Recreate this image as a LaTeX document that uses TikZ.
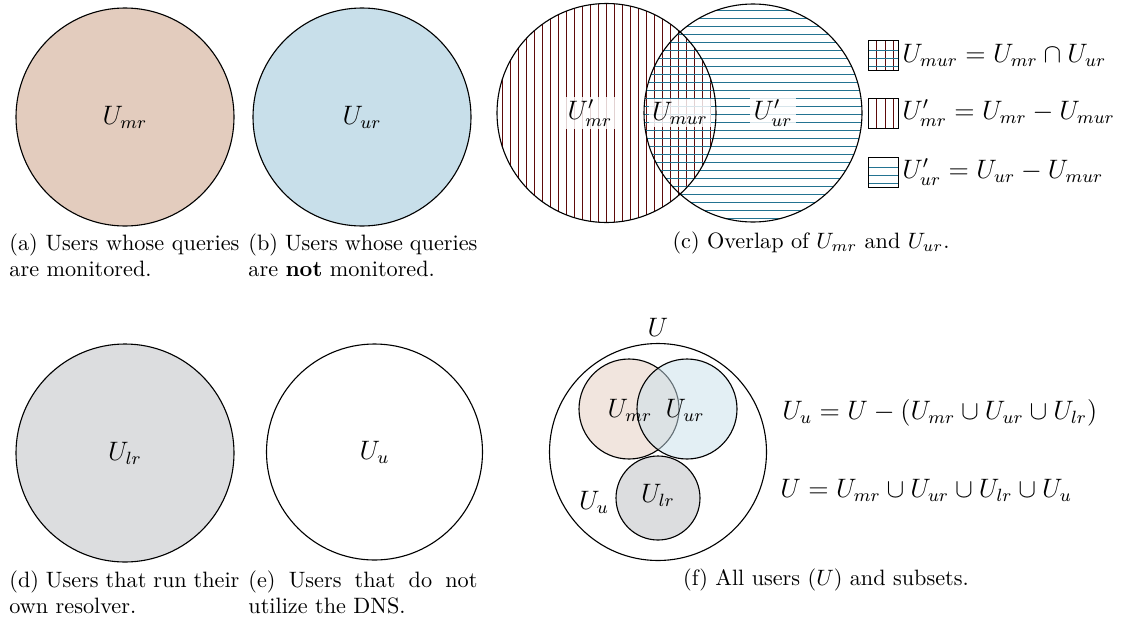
\documentclass[tikz,border=0pt]{standalone}
\usepackage{amsmath}
\definecolor{mrfill}{RGB}{227,204,190}
\definecolor{urfill}{RGB}{200,223,234}
\definecolor{lrfill}{RGB}{220,221,223}
\definecolor{mrhatch}{RGB}{95,10,10}
\definecolor{urhatch}{RGB}{35,115,145}
\begin{document}
\begin{tikzpicture}[x=0.45pt,y=-0.45pt,
  setc/.style={circle,draw=black,line width=0.5pt,inner sep=0pt,minimum size=#1*0.9pt},
  lbl/.style={font=\large},
  captxt/.style={font=\normalsize,inner sep=0pt},
  hv/.style={draw=mrhatch,line width=0.45pt},
  hh/.style={draw=urhatch,line width=0.6pt},
  labtag/.style={font=\large,fill=white,fill opacity=0.82,text opacity=1,inner sep=1.5pt},
  legbox/.style={draw=black,line width=0.45pt}]
\useasboundingbox (0,0) rectangle (1123,618);

% (a)
\node[setc=109,fill=mrfill] (ca) at (125,117) {};
\node[lbl] (la) at (ca) {$U_{mr}$};
\node[captxt,anchor=north west,text width=230*0.45pt,align=justify] (capa) at (9,233)
  {(a) Users whose queries\linebreak are monitored.};

% (b)
\node[setc=109,fill=urfill] (cb) at (362,117) {};
\node[lbl] (lb) at (cb) {$U_{ur}$};
\node[captxt,anchor=north west,text width=229*0.45pt,align=justify] (capb) at (248,233)
  {(b) Users whose queries\linebreak are \textbf{not} monitored.};

% (c)
\coordinate (cm) at (606.5,113);
\coordinate (cu) at (753,113);
\begin{scope}
  \clip (cm) circle [radius=109.5];
  \foreach \i in {0,...,28} \draw[hv] ({502.5+8*\i},0) -- ++(0,230);
\end{scope}
\begin{scope}
  \clip (cu) circle [radius=109];
  \foreach \i in {0,...,28} \draw[hh] (640,{10.5+8*\i}) -- ++(230,0);
\end{scope}
\node[setc=109.5] (cmr) at (cm) {};
\node[setc=109] (cur) at (cu) {};
\node[labtag] (t1) at (590,113) {$U'_{mr}$};
\node[labtag] (t2) at (680,113) {$U_{mur}$};
\node[labtag] (t3) at (773,113) {$U'_{ur}$};
\node[captxt] (capc) at (811,243) {(c) Overlap of $U_{mr}$ and $U_{ur}$.};

% legend
\coordinate (b1) at (868,40);
\coordinate (b2) at (868,98);
\coordinate (b3) at (868,157);
\foreach \k in {8.5,17,25.5} {
  \draw[hv] ([xshift=\k*0.45pt]b1) -- ++(0,30);
  \draw[hv] ([xshift=\k*0.45pt]b2) -- ++(0,30);
}
\foreach \k in {10.5,18.5,26.5} {
  \draw[hh] ([yshift=-\k*0.45pt]b1) -- ++(30,0);
  \draw[hh] ([yshift=-\k*0.45pt]b3) -- ++(30,0);
}
\draw[legbox] (b1) rectangle ++(30,30);
\draw[legbox] (b2) rectangle ++(30,30);
\draw[legbox] (b3) rectangle ++(30,30);
\node[lbl,anchor=west,inner sep=0pt] (e1) at (902,55) {$U_{mur} = U_{mr} \cap U_{ur}$};
\node[lbl,anchor=west,inner sep=0pt] (e2) at (902,113) {$U'_{mr} = U_{mr} - U_{mur}$};
\node[lbl,anchor=west,inner sep=0pt] (e3) at (902,172) {$U'_{ur} = U_{ur} - U_{mur}$};

% (d)
\node[setc=109,fill=lrfill] (cd) at (125,453) {};
\node[lbl] (ld) at (cd) {$U_{lr}$};
\node[captxt,anchor=north west,text width=230*0.45pt,align=justify] (capd) at (9,570)
  {(d) Users that run their\linebreak own resolver.};

% (e)
\node[setc=108] (ce) at (374.5,452) {};
\node[lbl] (le) at (ce) {$U_u$};
\node[captxt,anchor=north west,text width=229*0.45pt,align=justify] (cape) at (248,570)
  {(e) Users that do not\linebreak utilize the DNS.};

% (f)
\node[setc=108.5] (cU) at (658,452) {};
\node[setc=50,fill=mrfill,fill opacity=0.5] (fmr) at (629,409) {};
\node[setc=50,fill=urfill,fill opacity=0.5] (fur) at (687,409) {};
\node[setc=42,fill=lrfill] (flr) at (658,498) {};
\node[lbl] (lU) at (658,327) {$U$};
\node[lbl] (lfmr) at (630,410) {$U_{mr}$};
\node[lbl] (lfur) at (685,410) {$U_{ur}$};
\node[lbl] (lflr) at (658,495) {$U_{lr}$};
\node[lbl] (lfu) at (594,502) {$U_u$};
\node[lbl,anchor=west,inner sep=0pt] (f1) at (782,413) {$U_u = U - (U_{mr} \cup U_{ur} \cup U_{lr})$};
\node[lbl,anchor=west,inner sep=0pt] (f2) at (780,490) {$U = U_{mr} \cup U_{ur} \cup U_{lr} \cup U_u$};
\node[captxt] (capf) at (826,580) {(f) All users ($U$) and subsets.};
\end{tikzpicture}
\end{document}
